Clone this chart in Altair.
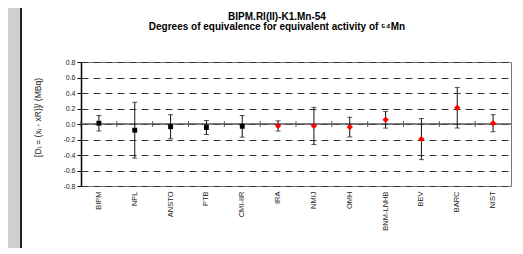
import altair as alt
import pandas as pd

labs = ["BIPM", "NPL", "ANSTO", "PTB", "CMI-IIR", "IRA", "NMIJ", "OMH",
        "BNM-LNHB", "BEV", "BARC", "NIST"]
deg = [0.01, -0.08, -0.035, -0.045, -0.03, -0.025, -0.025, -0.04, 0.055, -0.195, 0.21, 0.01]
unc = [0.10, 0.36, 0.155, 0.09, 0.14, 0.066, 0.24, 0.127, 0.108, 0.265, 0.262, 0.11]
group = ["a"] * 5 + ["b"] * 7
yticks = [-0.8, -0.6, -0.4, -0.2, 0.0, 0.2, 0.4, 0.6, 0.8]
title_lines = ["BIPM.RI(II)-K1.Mn-54",
               "Degrees of equivalence for equivalent activity of \u2075\u2074Mn"]

df = pd.DataFrame({
    "lab": labs,
    "d": deg,
    "lo": [d - u for d, u in zip(deg, unc)],
    "hi": [d + u for d, u in zip(deg, unc)],
    "g": group,
})

FONT = "Liberation Sans"
xscale = alt.Scale(type="band", paddingInner=0, paddingOuter=0)
yscale = alt.Scale(domain=[-0.8, 0.8], nice=False, zero=False)

xaxis = alt.Axis(title=None, orient="bottom", labelAngle=270, domain=False,
                 ticks=False, grid=False, labelPadding=5, labelFontSize=7.5,
                 labelColor="#222", labelFont=FONT)
yaxis = alt.Axis(values=yticks, grid=True, gridDash=[7, 5], gridColor="#333", gridWidth=1,
                 tickSize=4, tickColor="#000", domainColor="#000", domainWidth=1.5,
                 labelFontSize=7, labelFont=FONT, labelColor="#222", labelPadding=2,
                 labelOverlap=False,
                 labelExpr="replace(format(datum.value, '.1f'), '\u2212', '-')",
                 title="[D\u1d62 = (x\u1d62 - xR)]/ (MBq)", titleFont=FONT,
                 titleFontSize=8.5, titleFontWeight="normal", titleColor="#222",
                 titleX=-44, titleY=55, titleAngle=270, titleAlign="center",
                 titleBaseline="middle")


def X(**kw):
    return alt.X("lab:N", sort=labs, scale=xscale, axis=xaxis, **kw)


def Y(field):
    return alt.Y(field, scale=yscale, axis=yaxis)


base = alt.Chart(df)

pts_layer = base.mark_point(filled=True, opacity=1).encode(
    x=X(),
    y=Y("d:Q"),
    shape=alt.Shape("g:N", scale=alt.Scale(domain=["a", "b"], range=["square", "diamond"]), legend=None),
    color=alt.Color("g:N", scale=alt.Scale(domain=["a", "b"], range=["#000000", "#ff0000"]), legend=None),
    size=alt.Size("g:N", scale=alt.Scale(domain=["a", "b"], range=[24, 40]), legend=None),
)

bars = base.mark_rule(color="#111", strokeWidth=1).encode(x=X(), y=Y("lo:Q"), y2="hi:Q")
cap_lo = base.mark_tick(color="#111", orient="horizontal", size=5, thickness=1).encode(
    x=X(), y=Y("lo:Q"))
cap_hi = base.mark_tick(color="#111", orient="horizontal", size=5, thickness=1).encode(
    x=X(), y=Y("hi:Q"))

zero = alt.Chart(alt.Data(values=[{}])).mark_rule(color="#555", strokeWidth=1.5).encode(
    y=alt.datum(0, scale=yscale, axis=yaxis))
bticks = base.mark_tick(color="#222", orient="vertical", size=6, thickness=1).encode(
    x=X(bandPosition=0),
    y=alt.datum(0, scale=yscale, axis=yaxis))

strip = alt.Chart(alt.Data(values=[{}])).mark_rect(color="#cfcfcf").encode(
    x=alt.value(-73), x2=alt.value(-61), y=alt.value(-54), y2=alt.value(192))
border = alt.Chart(alt.Data(values=[{}])).mark_rule(color="#222", strokeWidth=2).encode(
    x=alt.value(-60), y=alt.value(-54), y2=alt.value(192))

t1 = alt.Chart(alt.Data(values=[{}])).mark_text(
    text=title_lines[0], font=FONT, fontSize=10, fontWeight="bold", color="#000",
    align="center", baseline="alphabetic").encode(x=alt.value(196), y=alt.value(-42.5))
t2 = alt.Chart(alt.Data(values=[{}])).mark_text(
    text=title_lines[1], font=FONT, fontSize=10, fontWeight="bold", color="#000",
    align="center", baseline="alphabetic").encode(x=alt.value(196), y=alt.value(-32.5))

chart = alt.layer(strip, border, zero, bticks, bars, cap_lo, cap_hi, pts_layer, t1, t2).properties(
    width=430, height=124,
    autosize=alt.AutoSizeParams(type="none"),
    padding={"left": 73, "top": 54, "right": 4, "bottom": 62},
    background="white",
).configure_view(stroke="#777", strokeWidth=1)

chart.save("out.html", embed_options={"renderer": "svg", "actions": False})
